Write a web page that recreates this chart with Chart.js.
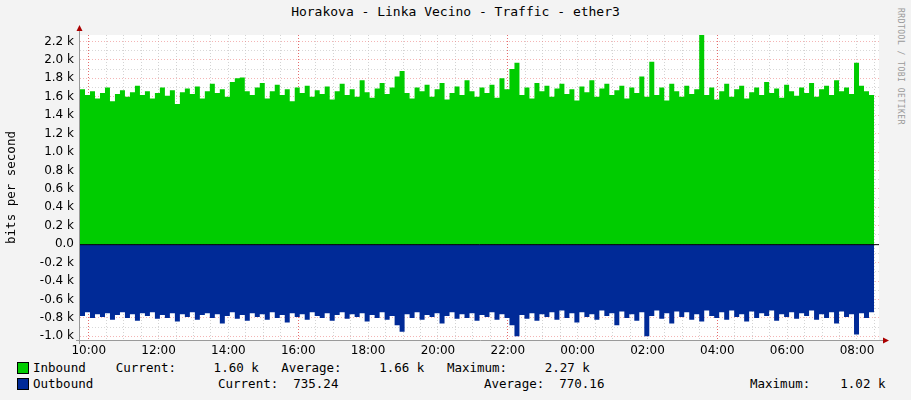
<!DOCTYPE html>
<html>
<head>
<meta charset="utf-8">
<script src="https://cdn.jsdelivr.net/npm/chart.js@4.4.1/dist/chart.umd.min.js"></script>
<style>
  body { margin:0; background:#f3f3f3; width:911px; height:400px; overflow:hidden; position:relative;
         font-family:"DejaVu Sans Mono", monospace; font-size:12.5px; color:#000; }
  #title { position:absolute; top:4px; left:0; width:911px; text-align:center; font-size:13px; }
  #wrap { position:absolute; left:0; top:0; width:911px; height:360px; }
  .t { position:absolute; white-space:pre; }
  .sq { position:absolute; width:10px; height:10px; border:1px solid #000; }
  #rrd { position:absolute; left:896px; top:8px; writing-mode:vertical-rl; font-size:8px; color:#999; letter-spacing:0.5px; }
</style>
</head>
<body>
<div id="title">Horakova - Linka Vecino - Traffic - ether3</div>
<div id="rrd">RRDTOOL / TOBI OETIKER</div>
<div id="wrap"><canvas id="c" width="911" height="360"></canvas></div>
<div class="sq" style="left:17px;top:362px;background:#00cc00"></div>
<div class="t" style="left:33px;top:360px">Inbound    Current:     1.60 k   Average:     1.66 k   Maximum:     2.27 k</div>
<div class="sq" style="left:17px;top:378px;background:#002a97"></div>
<div class="t" style="left:33px;top:376px">Outbound</div>
<div class="t" style="left:218px;top:376px">Current:  735.24</div>
<div class="t" style="left:484px;top:376px">Average:  770.16</div>
<div class="t" style="left:750px;top:376px">Maximum:    1.02 k</div>
<script>
// time window in hours (10:00 = 10, next-day 08:00 = 32)
const startHour = 9.75;
const stepHours = 0.143;

// inbound, k bits per second
const inbound = [
  1.68,1.62,1.66,1.58,1.64,1.70,1.55,1.63,1.67,1.60,1.65,1.72,1.62,1.66,1.58,1.64,
  1.70,1.61,1.67,1.52,1.65,1.69,1.63,1.71,1.58,1.66,1.74,1.64,1.68,1.60,1.76,1.80,
  1.81,1.66,1.62,1.70,1.75,1.58,1.66,1.73,1.62,1.68,1.55,1.70,1.64,1.72,1.60,1.67,
  1.63,1.71,1.57,1.66,1.74,1.62,1.68,1.60,1.78,1.65,1.59,1.69,1.75,1.63,1.70,1.82,
  1.88,1.64,1.58,1.70,1.66,1.73,1.60,1.68,1.75,1.57,1.64,1.71,1.62,1.78,1.66,1.60,
  1.70,1.64,1.73,1.59,1.80,1.68,1.90,1.97,1.62,1.70,1.58,1.75,1.66,1.72,1.60,1.69,
  1.74,1.63,1.68,1.56,1.71,1.65,1.78,1.60,1.69,1.74,1.62,1.67,1.72,1.58,1.70,1.64,
  1.82,1.60,1.98,1.62,1.70,1.56,1.74,1.66,1.60,1.72,1.63,1.68,2.27,1.62,1.70,1.57,
  1.66,1.74,1.60,1.68,1.72,1.58,1.65,1.70,1.62,1.76,1.64,1.69,1.59,1.73,1.66,1.61,
  1.70,1.64,1.75,1.60,1.68,1.72,1.62,1.78,1.66,1.70,1.63,1.97,1.72,1.66,1.62,1.60
];

// outbound, drawn negative
const outbound = [
  -0.78,-0.74,-0.80,-0.76,-0.79,-0.75,-0.82,-0.77,-0.74,-0.80,-0.76,-0.83,-0.75,-0.78,-0.74,-0.81,
  -0.77,-0.80,-0.75,-0.84,-0.76,-0.79,-0.74,-0.82,-0.77,-0.75,-0.80,-0.76,-0.86,-0.78,-0.74,-0.81,
  -0.77,-0.83,-0.75,-0.79,-0.76,-0.82,-0.74,-0.80,-0.77,-0.85,-0.75,-0.79,-0.76,-0.82,-0.74,-0.78,
  -0.80,-0.75,-0.83,-0.77,-0.74,-0.81,-0.76,-0.79,-0.75,-0.84,-0.77,-0.80,-0.74,-0.82,-0.78,-0.88,
  -0.95,-0.76,-0.80,-0.74,-0.82,-0.77,-0.79,-0.75,-0.86,-0.78,-0.74,-0.81,-0.76,-0.80,-0.75,-0.83,
  -0.77,-0.79,-0.74,-0.82,-0.76,-0.80,-0.88,-1.00,-0.77,-0.81,-0.75,-0.83,-0.76,-0.79,-0.74,-0.82,
  -0.72,-0.80,-0.75,-0.85,-0.74,-0.79,-0.76,-0.82,-0.72,-0.78,-0.75,-0.88,-0.73,-0.80,-0.76,-0.83,
  -0.74,-1.00,-0.78,-0.72,-0.81,-0.75,-0.86,-0.73,-0.79,-0.74,-0.82,-0.76,-0.84,-0.72,-0.78,-0.80,
  -0.74,-0.82,-0.72,-0.79,-0.76,-0.84,-0.73,-0.80,-0.75,-0.78,-0.72,-0.83,-0.76,-0.79,-0.74,-0.81,
  -0.75,-0.78,-0.72,-0.82,-0.76,-0.80,-0.74,-0.86,-0.73,-0.79,-0.76,-0.98,-0.75,-0.80,-0.74,-0.73
];

const majorHours = [10, 16, 22, 28];

const toPts = arr => arr.map((v, i) => ({ x: startHour + i * stepHours, y: v }));

const plotBg = {
  id: 'plotBg',
  beforeDraw(chart) {
    const { ctx, chartArea: a } = chart;
    ctx.save();
    ctx.fillStyle = '#ffffff';
    ctx.fillRect(a.left, a.top, a.right - a.left, a.bottom - a.top);
    ctx.restore();
  },
  afterDatasetsDraw(chart) {
    const { ctx, chartArea: a, scales } = chart;
    const y0 = scales.y.getPixelForValue(0);
    ctx.save();
    ctx.strokeStyle = '#000'; ctx.lineWidth = 1;
    ctx.beginPath(); ctx.moveTo(a.left, y0 + 0.5); ctx.lineTo(a.right, y0 + 0.5); ctx.stroke();
    // axis arrows
    ctx.strokeStyle = '#999'; ctx.fillStyle = '#aa0000';
    ctx.beginPath(); ctx.moveTo(a.left - 0.5, a.bottom + 4); ctx.lineTo(a.left - 0.5, a.top - 6); ctx.stroke();
    ctx.beginPath(); ctx.moveTo(a.left - 4, a.bottom + 0.5); ctx.lineTo(a.right + 6, a.bottom + 0.5); ctx.stroke();
    ctx.beginPath(); ctx.moveTo(a.left - 3.5, a.top - 4); ctx.lineTo(a.left + 2.5, a.top - 4); ctx.lineTo(a.left - 0.5, a.top - 10); ctx.fill();
    ctx.beginPath(); ctx.moveTo(a.right + 4, a.bottom - 2.5); ctx.lineTo(a.right + 4, a.bottom + 3.5); ctx.lineTo(a.right + 10, a.bottom + 0.5); ctx.fill();
    ctx.restore();
  }
};

new Chart(document.getElementById('c'), {
  type: 'line',
  data: {
    datasets: [
      { label: 'Inbound', data: toPts(inbound), stepped: true, fill: 'origin', backgroundColor: '#00cc00', borderWidth: 0, pointRadius: 0 },
      { label: 'Outbound', data: toPts(outbound), stepped: true, fill: 'origin', backgroundColor: '#002a97', borderWidth: 0, pointRadius: 0 }
    ]
  },
  options: {
    animation: false, responsive: false,
    layout: { padding: { top: 35, right: 32, left: 4, bottom: 0 } },
    plugins: { legend: { display: false }, tooltip: { enabled: false } },
    scales: {
      x: {
        type: 'linear', min: startHour, max: startHour + 160 * stepHours,
        afterBuildTicks(s) { const t = []; for (let h = 10; h <= 32.5; h += 0.5) t.push({ value: h }); s.ticks = t; },
        afterFit(s) { s.height = 20; },
        border: { display: false, dash: [1, 2] },
        grid: {
          color: c => majorHours.includes(c.tick.value) ? 'rgba(220,60,60,0.75)' : 'rgba(200,200,200,0.8)',
          drawTicks: false
        },
        ticks: {
          autoSkip: false, maxRotation: 0, padding: 4, color: '#000',
          font: { family: 'DejaVu Sans', size: 12 },
          callback: v => (Number.isInteger(v) && v % 2 === 0) ? String(v % 24).padStart(2, '0') + ':00' : ''
        }
      },
      y: {
        min: -1.04, max: 2.27,
        afterBuildTicks(s) { const t = []; for (let k = -10; k <= 22; k++) t.push({ value: k / 10 }); s.ticks = t; },
        afterFit(s) { s.width = 76; },
        border: { display: false, dash: [1, 2] },
        grid: {
          color: c => (Math.round(c.tick.value * 10) % 2 === 0) ? 'rgba(235,120,120,0.55)' : 'rgba(200,200,200,0.7)',
          drawTicks: false
        },
        title: { display: true, text: 'bits per second', color: '#000', font: { family: 'DejaVu Sans Mono', size: 12.5 }, padding: 0 },
        ticks: {
          autoSkip: false, padding: 6, color: '#000',
          font: { family: 'DejaVu Sans', size: 12 },
          callback: v => {
            const k = Math.round(v * 10);
            if (k % 2 !== 0) return '';
            return k === 0 ? '0.0' : (k / 10).toFixed(1) + ' k';
          }
        }
      }
    }
  },
  plugins: [plotBg]
});
</script>
</body>
</html>
